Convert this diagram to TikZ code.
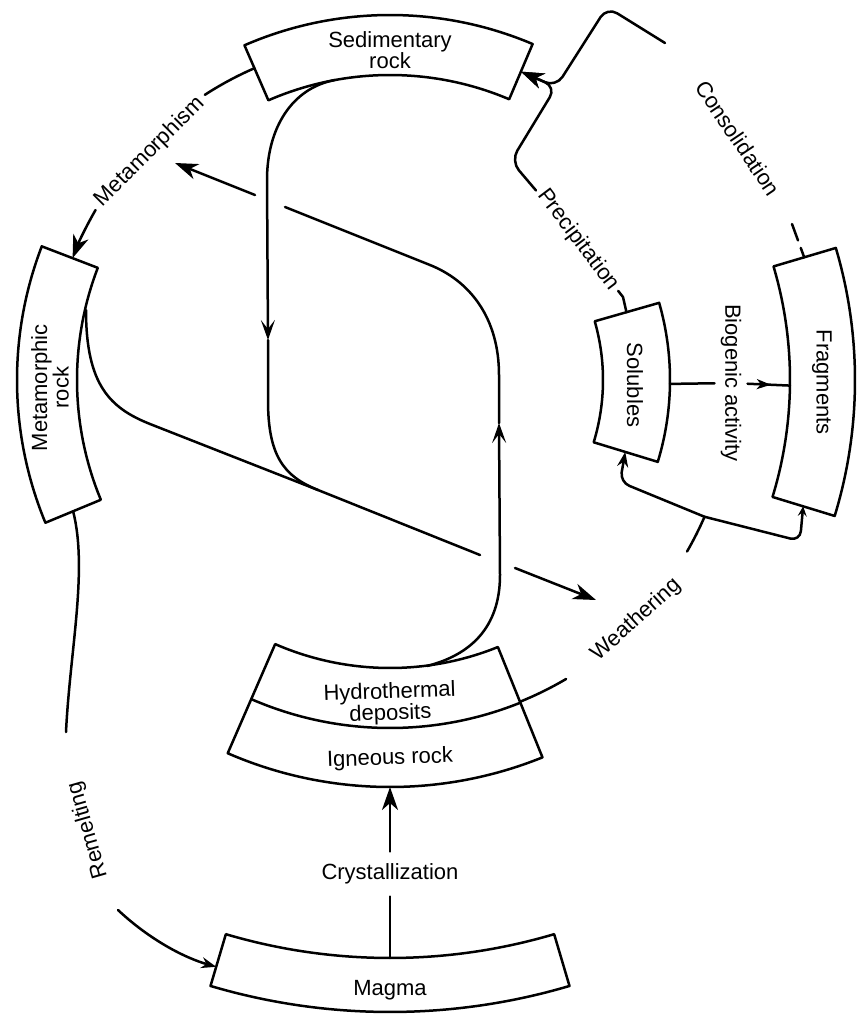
\documentclass[tikz,border=0pt]{standalone}
\usepackage{fontspec}
\setmainfont{Liberation Sans}
\usetikzlibrary{arrows.meta,decorations.markings}
% annular sector: start angle, end angle, inner radius, outer radius
\newcommand\ringbox[4]{\draw (#1:#3) arc[start angle=#1,end angle=#2,radius=#3] -- (#2:#4) arc[start angle=#2,end angle=#1,radius=#4] -- cycle;}
\begin{document}
\begin{tikzpicture}[x=1pt,y=-1pt,line width=2.5pt,line cap=round,line join=round,
  lbl/.style={font=\fontsize{22}{21.5}\selectfont,inner sep=0pt},
  bigtip/.style={-{Stealth[length=23pt,width=16pt,inset=7pt]}},
  midtip/.style={-{Stealth[length=20pt,width=14pt,inset=9pt]}},
  smalltip/.style={-{Stealth[length=15pt,width=11pt,inset=5pt]}},
  tinytip/.style={-{Stealth[length=10pt,width=9pt,inset=4pt]}},
  midarrow/.style={postaction={decorate},decoration={markings,mark=at position #1 with {\arrow{Stealth[length=14pt,width=10pt,inset=4pt]}}}},
]
\fill[white] (0,0) rectangle (864,1020);
\useasboundingbox (0,0) rectangle (864,1020);

\begin{scope}[shift={(390,380)}]
  % rock reservoirs as sectors of a ring
  \ringbox{-113.5}{-67}{305}{365}
  \ringbox{157.5}{201}{313}{373}
  \ringbox{-16.5}{17}{400}{465}
  \ringbox{-16}{17}{213}{280}
  \ringbox{68}{113.5}{288}{407}
  \draw (68:348) arc[start angle=68,end angle=113.5,radius=348];
  \ringbox{73.5}{106.5}{578}{632}
  % box labels
  \node[lbl,align=center] (sed) at (-90:330) {Sedimentary\\rock};
  \node[lbl,align=center,rotate=90] (meta) at (178.7:340) {Metamorphic\\rock};
  \node[lbl,rotate=-90] (sol) at (1.2:245) {Solubles};
  \node[lbl,rotate=-90] (frag) at (0.3:432) {Fragments};
  \node[lbl,align=center,rotate=2] (hydro) at (90:323.5) {Hydrothermal\\deposits};
  \node[lbl,rotate=2] (ign) at (90:379) {Igneous rock};
  \node[lbl] (mag) at (90:610) {Magma};
  % attachment points on the box outlines
  \coordinate (sedW) at (-113.5:340);
  \coordinate (sedE) at (-67:335);
  \coordinate (metaN) at (-159:340);
  \coordinate (metaS) at (157.5:343);
  \coordinate (magW) at (106.5:612);
  \coordinate (magN) at (90:578);
  \coordinate (ignS) at (90:407);
  \coordinate (ignE) at (68:347);
  \coordinate (solN) at (-16:246);
  \coordinate (solS) at (17:246);
  \coordinate (solE) at (0.8:280);
  \coordinate (fragN) at (-16.5:432);
  \coordinate (fragS) at (17:432);
  \coordinate (fragW) at (0.8:400);
  \coordinate (metA) at (-150:340);
  \coordinate (wthA) at (30:343);
  \coordinate (wthJ) at (23.5:343);
\end{scope}

% process labels
\node[lbl,rotate=45] (lmet) at (150,152) {Metamorphism};
\node[lbl,rotate=106] (lrem) at (88,830) {Remelting};
\node[lbl,inner ysep=11pt] (lcry) at (390,874) {Crystallization};
\node[lbl,rotate=42] (lwea) at (636,620) {Weathering};
\node[lbl,rotate=-53,inner sep=3pt] (lpre) at (578,240) {Precipitation};
\node[lbl,rotate=-56] (lcon) at (738,138) {Consolidation};
\node[lbl,rotate=-90,inner ysep=5pt] (lbio) at (731,383) {Biogenic activity};

% free ends and bends
\coordinate (remA) at (66,732);
\coordinate (remB) at (118,910);
\coordinate (pjoin) at (556,87);
\coordinate (pcorner) at (511,161);
\coordinate (ccorner) at (607,7);
\coordinate (conA) at (665,43);
\coordinate (conB) at (792,224);
\coordinate (solT) at (623,297);
\coordinate (sA0) at (335,80);
\coordinate (sAt) at (268,340);
\coordinate (sAj) at (318,490);
\coordinate (sAg) at (480,555);
\coordinate (wthS) at (515,568);
\coordinate (wthT) at (596,600);
\coordinate (mB0) at (86,310);
\coordinate (hB0) at (427,666);
\coordinate (hBt) at (499,423);
\coordinate (hBg) at (285,207);
\coordinate (mtS) at (255,195);
\coordinate (mtT) at (175,163);

% outer cycle
\draw (sedW) arc[start angle=-113.5,end angle=-123,radius=340];
\draw[bigtip] (metA) arc[start angle=-150,end angle=-159,radius=340];
\draw (metaS) .. controls (88,570) and (70,650) .. (remA);
\draw[smalltip] (remB) .. controls (150,940) and (185,958) .. (magW);
\draw (magN) -- (lcry);
\draw[bigtip] (lcry) -- (ignS);
\draw (ignE) arc[start angle=68,end angle=59.5,radius=347];
\draw (wthA) arc[start angle=30,end angle=23.5,radius=343];
\draw[smalltip,rounded corners=10pt] (wthJ) -- (620,482) -- (solS);
\draw[tinytip,rounded corners=10pt] (wthJ) -- (800,541) -- (fragS);
\draw (solE) -- (lbio);
\draw[midarrow=0.55] (lbio) -- (fragW);
\draw (solN) -- (solT) -- (lpre);
\draw[bigtip,rounded corners=12pt] (lpre) -- (pcorner) -- (pjoin) -- (sedE);
\draw[bigtip,rounded corners=12pt] (conA) -- (ccorner) -- (pjoin) -- (sedE);
\draw[dash pattern=on 10pt off 8pt on 30pt] (fragN) -- (conB);

% inner S-shaped pathways
\draw[midtip] (sA0) .. controls (292,88) and (267,128) .. (267,180) -- (sAt);
\draw (sAt) -- (268,400) .. controls (268,455) and (283,476) .. (sAj) -- (sAg);
\draw (mB0) .. controls (86,385) and (110,408) .. (150,424) -- (sAj);
\draw[bigtip] (wthS) -- (wthT);
\draw[midtip] (hB0) .. controls (470,655) and (500,628) .. (500,575) -- (hBt);
\draw (hBt) -- (499,375) .. controls (499,318) and (470,281) .. (430,265) -- (hBg);
\draw[bigtip] (mtS) -- (mtT);
\end{tikzpicture}
\end{document}
